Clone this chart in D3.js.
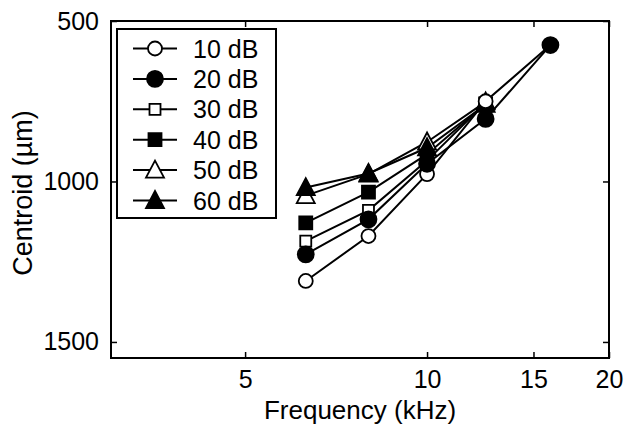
<!DOCTYPE html>
<html>
<head>
<meta charset="utf-8">
<script src="https://cdn.jsdelivr.net/npm/d3@7/dist/d3.min.js"></script>
<style>
  html, body { margin: 0; padding: 0; background: #fff; }
  svg { display: block; font-family: "Liberation Sans", Arial, Helvetica, sans-serif; }
</style>
</head>
<body>
<svg id="chart" width="624" height="428"></svg>
<script>
// Stimulus frequencies (kHz) and centroid positions (µm) per sound level
const frequencies = [6.3, 8, 10, 12.5, 16];
const levels = ["10 dB", "20 dB", "30 dB", "40 dB", "50 dB", "60 dB"];
const centroid10 = [1310, 1170, 977, 750, 575];
const centroid20 = [1227, 1118, 945, 805, 575];
const centroid30 = [1186, 1090, 935, 755, null];
const centroid40 = [1129, 1033, 915, 758, null];
const centroid50 = [1044, 977, 877, 752, null];
const centroid60 = [1019, 975, 895, 760, null];
const seriesValues = [centroid10, centroid20, centroid30, centroid40, centroid50, centroid60];
const markerShapes = ["circle", "circle", "square", "square", "triangle", "triangle"];
const markerFilled = [false, true, false, true, false, true];

const xTicks = [5, 10, 15, 20];
const yTicks = [500, 1000, 1500];

const svg = d3.select("#chart");
const plot = { left: 111, right: 609, top: 21, bottom: 358 };

const x = d3.scaleLog().domain([3, 20]).range([plot.left, plot.right]);
const y = d3.scaleLinear().domain([500, 1550]).range([plot.top, plot.bottom]);

const fontSize = 25;
const tickLen = 6;

// Marker path generator centred on (0,0)
function markerPath(shape, filled) {
  const p = d3.path();
  if (shape === "circle") {
    const r = filled ? 8 : 7;
    p.arc(0, 0, r, 0, 2 * Math.PI);
  } else if (shape === "square") {
    const h = filled ? 6.5 : 5.5;
    p.rect(-h, -h, 2 * h, 2 * h);
  } else {
    const w = 9, top = -9.5, base = 7.5;
    p.moveTo(0, top); p.lineTo(w, base); p.lineTo(-w, base); p.closePath();
  }
  return p.toString();
}

function drawMarker(g, i, cx, cy) {
  g.append("path")
    .attr("d", markerPath(markerShapes[i], markerFilled[i]))
    .attr("transform", `translate(${cx},${cy})`)
    .attr("fill", markerFilled[i] ? "#000" : "#fff")
    .attr("stroke", "#000")
    .attr("stroke-width", 1.8);
}

// Axes frame
svg.append("rect")
  .attr("x", plot.left).attr("y", plot.top)
  .attr("width", plot.right - plot.left).attr("height", plot.bottom - plot.top)
  .attr("fill", "none").attr("stroke", "#000").attr("stroke-width", 2);

// Inward ticks on all four sides
const bottomAxis = d3.axisBottom(x).tickValues(xTicks).tickFormat(d3.format("d"))
  .tickSizeInner(-tickLen).tickSizeOuter(0).tickPadding(12);
const gx = svg.append("g").attr("transform", `translate(0,${plot.bottom})`).call(bottomAxis);
gx.select(".domain").remove();
gx.selectAll("line").attr("stroke-width", 1.5);
gx.selectAll("text").attr("font-size", fontSize).attr("fill", "#000").attr("font-family", null);

const topAxis = d3.axisTop(x).tickValues(xTicks).tickFormat("").tickSizeInner(-tickLen).tickSizeOuter(0);
const gxt = svg.append("g").attr("transform", `translate(0,${plot.top})`).call(topAxis);
gxt.select(".domain").remove();
gxt.selectAll("line").attr("stroke-width", 1.5);

const leftAxis = d3.axisLeft(y).tickValues(yTicks).tickFormat(d3.format("d"))
  .tickSizeInner(-tickLen).tickSizeOuter(0).tickPadding(tickLen + 6);
const gy = svg.append("g").attr("transform", `translate(${plot.left},0)`).call(leftAxis);
gy.select(".domain").remove();
gy.selectAll("line").attr("stroke-width", 1.5);
gy.selectAll("text").attr("font-size", fontSize).attr("fill", "#000").attr("font-family", null);

const rightAxis = d3.axisRight(y).tickValues(yTicks).tickFormat("").tickSizeInner(-tickLen).tickSizeOuter(0);
const gyr = svg.append("g").attr("transform", `translate(${plot.right},0)`).call(rightAxis);
gyr.select(".domain").remove();
gyr.selectAll("line").attr("stroke-width", 1.5);

// Axis titles
svg.append("text")
  .attr("x", 360).attr("y", 419)
  .attr("text-anchor", "middle").attr("font-size", 26)
  .text("Frequency (kHz)");

svg.append("text")
  .attr("transform", `translate(32,193) rotate(-90)`)
  .attr("text-anchor", "middle").attr("font-size", 27)
  .text("Centroid (µm)");

// Data lines
const line = d3.line()
  .defined(d => d[1] != null)
  .x(d => x(d[0]))
  .y(d => y(d[1]));

const dataG = svg.append("g");
seriesValues.forEach((vals) => {
  const pts = frequencies.map((f, j) => [f, vals[j]]);
  dataG.append("path")
    .attr("d", line(pts))
    .attr("fill", "none").attr("stroke", "#000").attr("stroke-width", 2);
});

// Markers: 30-60 dB first, then 10 dB, with 20 dB on top
const drawOrder = [2, 3, 4, 5, 0, 1];
drawOrder.forEach(i => {
  frequencies.forEach((f, j) => {
    const v = seriesValues[i][j];
    if (v != null) drawMarker(dataG, i, x(f), y(v));
  });
});

// Legend
const legend = svg.append("g");
const lg = { x: 117, y: 29, w: 159, h: 189 };
legend.append("rect")
  .attr("x", lg.x).attr("y", lg.y).attr("width", lg.w).attr("height", lg.h)
  .attr("fill", "#fff").attr("stroke", "#000").attr("stroke-width", 2);
levels.forEach((name, i) => {
  const cy = 48.5 + i * 30.4;
  legend.append("line")
    .attr("x1", 133).attr("x2", 177).attr("y1", cy).attr("y2", cy)
    .attr("stroke", "#000").attr("stroke-width", 2);
  drawMarker(legend, i, 155, cy);
  legend.append("text")
    .attr("x", 193).attr("y", cy + 9)
    .attr("font-size", fontSize)
    .text(name);
});
</script>
</body>
</html>
